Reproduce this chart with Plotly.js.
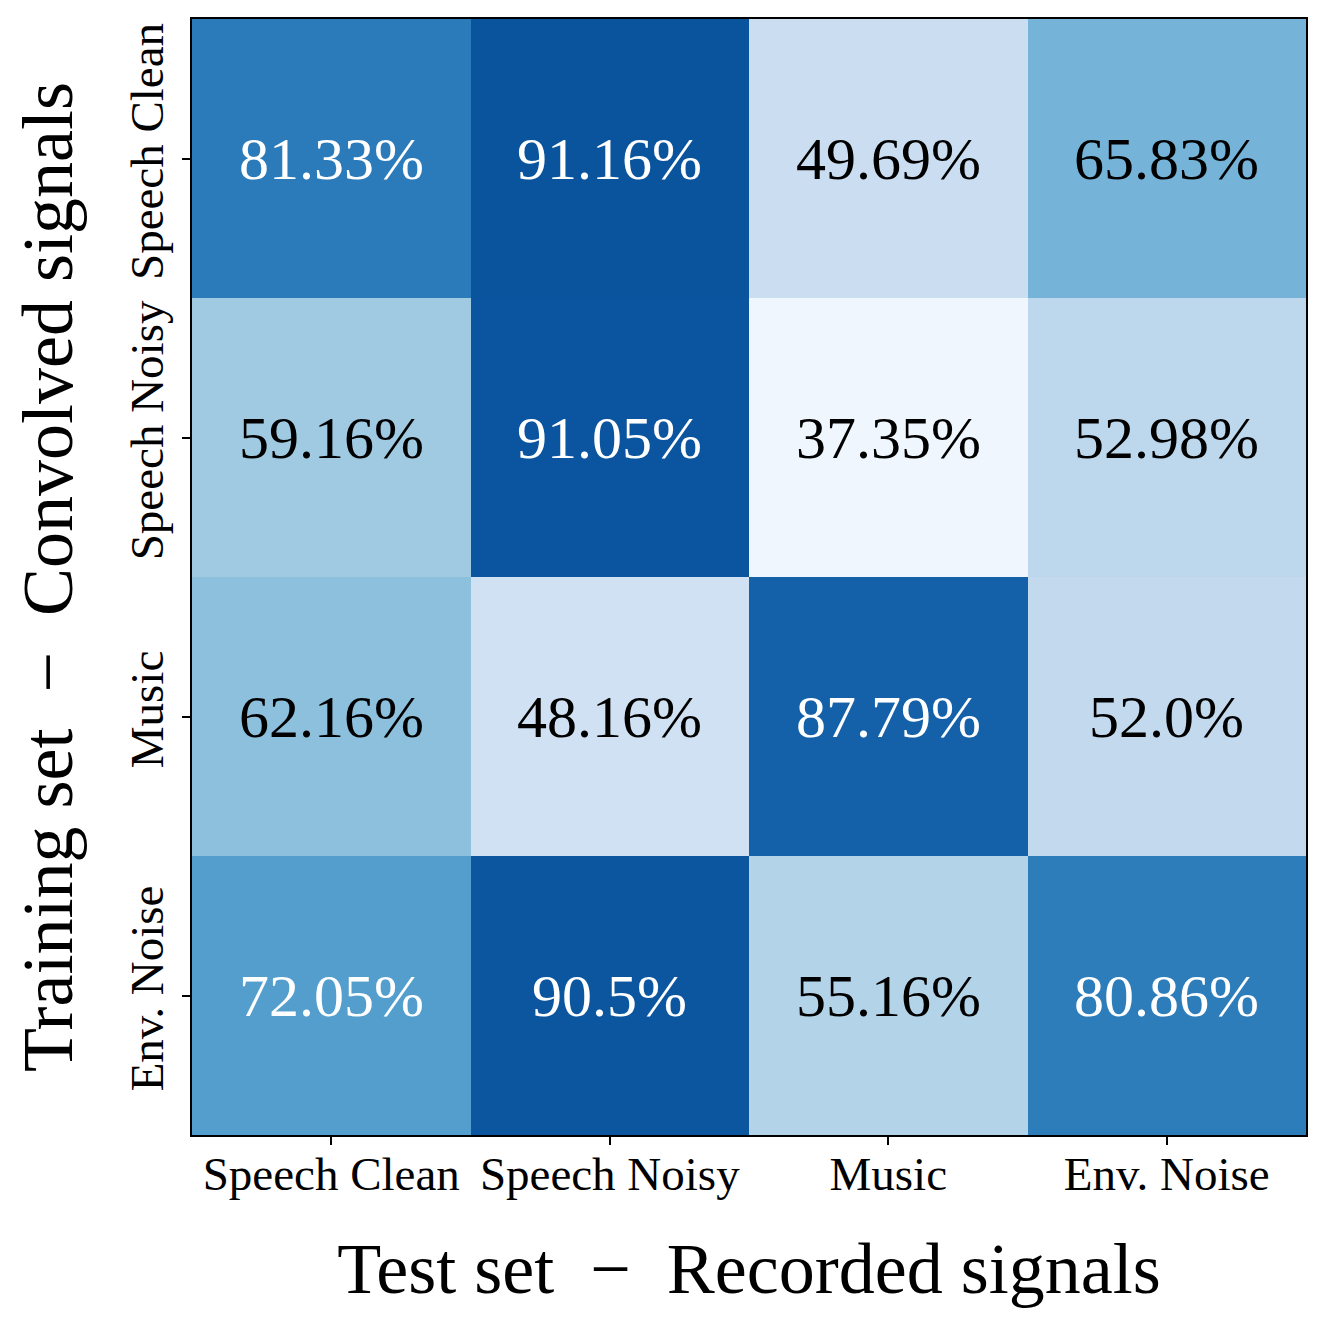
<!DOCTYPE html>
<html><head><meta charset="utf-8">
<script src="https://cdn.plot.ly/plotly-3.0.1.min.js"></script>
<style>html,body{margin:0;padding:0;background:#fff}</style>
</head><body>
<div id="chart" style="width:1327px;height:1327px"></div>
<script>
const testCategories = ["Speech Clean", "Speech Noisy", "Music", "Env. Noise"];
const trainCategories = ["Speech Clean", "Speech Noisy", "Music", "Env. Noise"];
const accSpeechClean = [81.33, 91.16, 49.69, 65.83];
const accSpeechNoisy = [59.16, 91.05, 37.35, 52.98];
const accMusic = [62.16, 48.16, 87.79, 52.0];
const accEnvNoise = [72.05, 90.5, 55.16, 80.86];
const xTitle = "Test set \u00a0\u2212\u00a0 Recorded signals";
const yTitle = "Training set \u00a0\u2212\u00a0 Convolved signals";

const z = [accSpeechClean, accSpeechNoisy, accMusic, accEnvNoise];
const zmin = 35, zmax = 100;
const blues = ["#f7fbff","#deebf7","#c6dbef","#9ecae1","#6baed6","#4292c6","#2171b5","#08519c","#08306b"];
const colorscale = blues.map((c,i)=>[i/(blues.length-1), c]);
const fmt = v => Number.isInteger(v) ? v.toFixed(1) : String(v);
const font = "'Liberation Serif', 'DejaVu Serif', serif";

const annotations = [];
z.forEach((row, i) => row.forEach((v, j) => {
  annotations.push({
    x: testCategories[j], y: trainCategories[i], xref: "x", yref: "y",
    text: fmt(v) + "%", showarrow: false,
    font: {family: font, size: 60, color: (v - zmin) / (zmax - zmin) > 0.5 ? "#ffffff" : "#000000"}
  });
}));

const trace = {
  type: "heatmap", z: z, x: testCategories, y: trainCategories,
  colorscale: colorscale, zmin: zmin, zmax: zmax, showscale: false, hoverinfo: "skip"
};

const layout = {
  width: 1327, height: 1327,
  margin: {l: 192, r: 21, t: 19, b: 192},
  paper_bgcolor: "#fff", plot_bgcolor: "#fff",
  font: {family: font, color: "#000"},
  xaxis: {
    type: "category", showline: true, mirror: true, linecolor: "#000", linewidth: 2,
    ticks: "outside", ticklen: 8, tickwidth: 2, tickcolor: "#000", automargin: false,
    ticklabelstandoff: -11,
    tickfont: {family: font, size: 47}, showgrid: false, zeroline: false,
    title: {text: xTitle, font: {family: font, size: 72}, standoff: 43}
  },
  yaxis: {
    type: "category", autorange: "reversed", showline: true, mirror: true, linecolor: "#000", linewidth: 2,
    ticks: "outside", ticklen: 8, tickwidth: 2, tickcolor: "#000", tickangle: -90, automargin: false,
    tickfont: {family: font, size: 47}, showgrid: false, zeroline: false,
    title: {text: yTitle, font: {family: font, size: 72}, standoff: 25}
  },
  annotations: annotations
};

Plotly.newPlot("chart", [trace], layout, {displayModeBar: false, staticPlot: true});
</script>
</body></html>
